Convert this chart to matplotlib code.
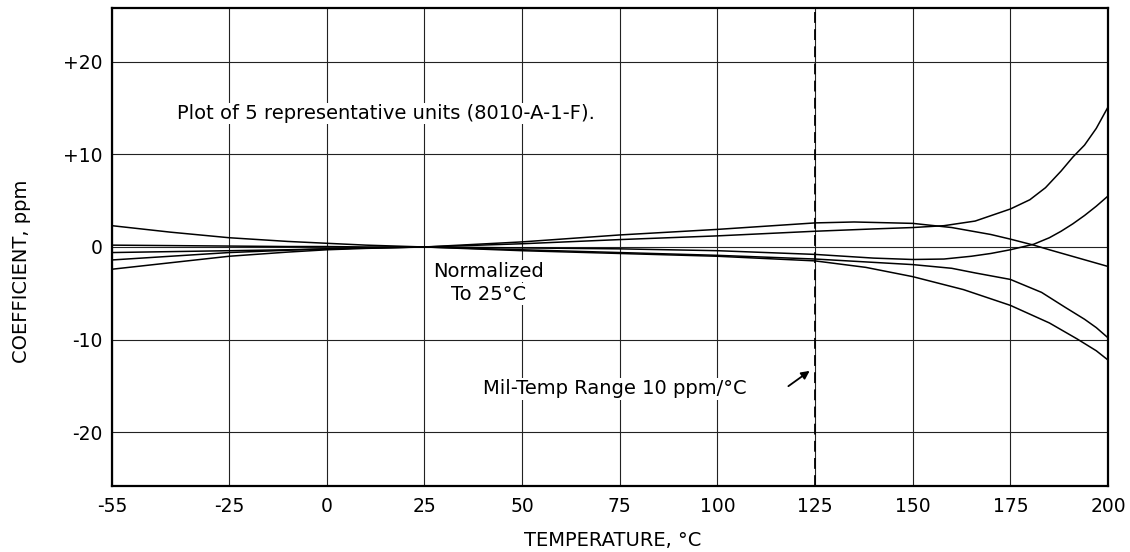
import matplotlib.pyplot as plt

plt.rcParams['font.family'] = ['DejaVu Sans']

# five representative units, deviation (ppm) vs temperature (deg C)
a_temp = [-55, -40, -25, -10, 0, 10, 25, 50, 75, 100, 125, 140, 150, 158, 166, 175, 180, 184, 188, 191, 194, 197, 200]
a_ppm = [-1.4, -1.0, -0.6, -0.35, -0.2, -0.1, 0, 0.35, 0.8, 1.2, 1.7, 1.95, 2.1, 2.3, 2.8, 4.1, 5.1, 6.4, 8.2, 9.7, 11.0, 12.8, 15.1]

b_temp = [-55, -40, -25, -10, 0, 10, 25, 50, 75, 100, 125, 135, 150, 160, 170, 175, 181, 185, 190, 195, 200]
b_ppm = [-2.4, -1.7, -1.0, -0.55, -0.3, -0.15, 0, 0.55, 1.3, 1.9, 2.6, 2.7, 2.55, 2.1, 1.35, 0.85, 0.2, -0.3, -0.9, -1.5, -2.1]

c_temp = [-55, -40, -25, -10, 0, 10, 25, 50, 75, 100, 125, 140, 150, 158, 165, 170, 175, 181, 185, 188, 191, 194, 197, 200]
c_ppm = [-0.6, -0.5, -0.4, -0.3, -0.2, -0.1, 0, -0.1, -0.2, -0.4, -0.8, -1.2, -1.35, -1.3, -1.0, -0.7, -0.3, 0.3, 1.0, 1.7, 2.5, 3.4, 4.4, 5.5]

d_temp = [-55, -40, -25, -10, 0, 10, 25, 50, 75, 100, 125, 150, 160, 166, 175, 183, 189, 194, 197, 200]
d_ppm = [0.2, 0.15, 0.1, 0.05, 0.05, 0.0, 0, -0.3, -0.6, -0.9, -1.3, -1.9, -2.3, -2.8, -3.5, -4.9, -6.5, -7.8, -8.7, -9.8]

e_temp = [-55, -40, -25, -10, 0, 10, 25, 50, 75, 100, 125, 138, 150, 163, 175, 185, 192, 197, 200]
e_ppm = [2.3, 1.6, 1.0, 0.6, 0.4, 0.2, 0, -0.4, -0.7, -1.0, -1.5, -2.2, -3.2, -4.6, -6.3, -8.2, -9.9, -11.2, -12.2]

x_ticks = [-55, -25, 0, 25, 50, 75, 100, 125, 150, 175, 200]
x_labels = ['-55', '-25', '0', '25', '50', '75', '100', '125', '150', '175', '200']
y_ticks = [-20, -10, 0, 10, 20]
y_labels = ['-20', '-10', '0', '+10', '+20']

fig = plt.figure(figsize=(11.3, 5.52), dpi=100)
ax = fig.add_axes([0.0991, 0.1196, 0.8814, 0.8659])

for t, v in [(a_temp, a_ppm), (b_temp, b_ppm), (c_temp, c_ppm), (d_temp, d_ppm), (e_temp, e_ppm)]:
    ax.plot(t, v, color='black', lw=1.1, zorder=3)

ax.set_xlim(-55, 200)
ax.set_ylim(-25.8, 25.8)
ax.set_xticks(x_ticks)
ax.set_xticklabels(x_labels)
ax.set_yticks(y_ticks)
ax.set_yticklabels(y_labels)
ax.tick_params(length=0, labelsize=13.5)
ax.tick_params(axis='x', pad=8)
ax.tick_params(axis='y', pad=6.5)

ax.grid(True, color='#222222', lw=0.8)
for s in ax.spines.values():
    s.set_linewidth(1.6)

# mil-temp limit
ax.axvline(125, color='black', lw=1.3, ls=(0, (6, 3.5)), zorder=4)

box = dict(fc='white', ec='none', pad=1)
ax.text(-38.3, 14.4, 'Plot of 5 representative units (8010-A-1-F).', fontsize=14,
        va='center', ha='left', bbox=box)
ax.text(41.5, -2.6, 'Normalized', fontsize=14, ha='center', va='center', bbox=box)
ax.text(41.5, -5.1, 'To 25\u00b0C', fontsize=14, ha='center', va='center', bbox=box)
ax.text(40, -15.3, 'Mil-Temp Range 10 ppm/\u00b0C', fontsize=14, ha='left', va='center', bbox=box)
ax.annotate('', xy=(124.2, -13.2), xytext=(117.6, -15.2),
            arrowprops=dict(arrowstyle='-|>', color='black', lw=1.3, mutation_scale=12))

ax.set_xlabel('TEMPERATURE, \u00b0C', fontsize=14)
ax.set_ylabel('COEFFICIENT, ppm', fontsize=14)
ax.xaxis.set_label_coords(0.503, -0.094)
ax.yaxis.set_label_coords(-0.081, 0.45)

fig.savefig('out.png', dpi=100)
